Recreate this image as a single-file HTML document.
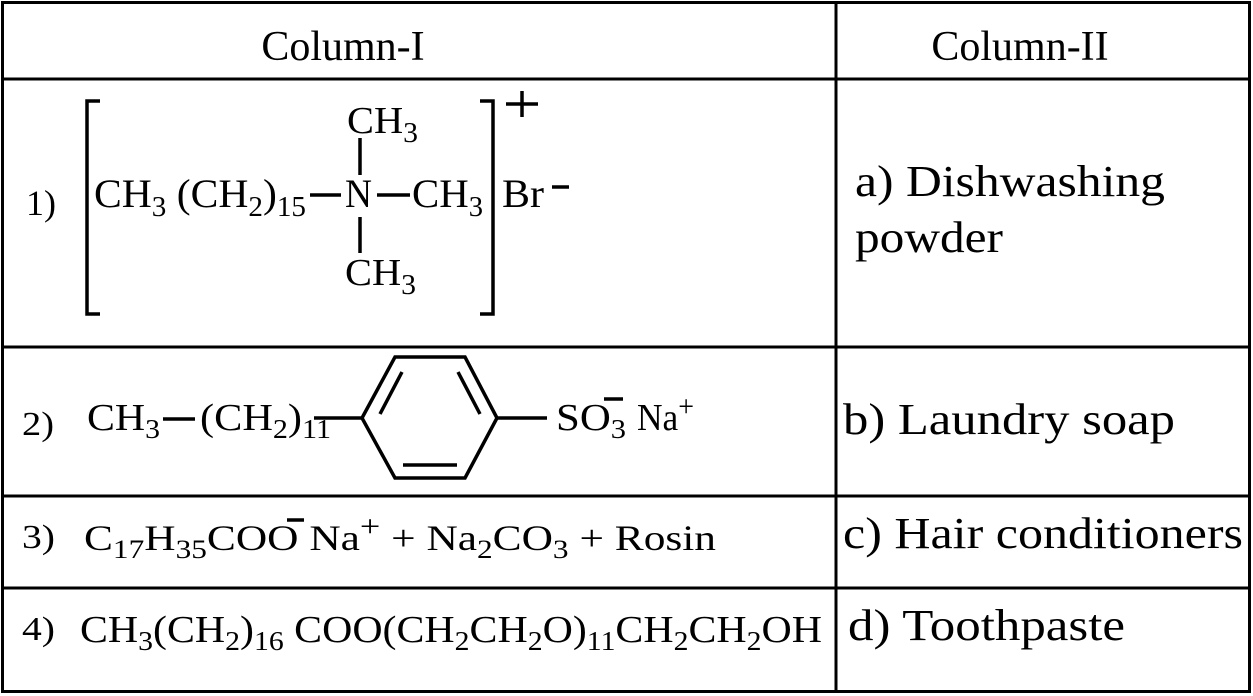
<!DOCTYPE html>
<html><head><meta charset="utf-8"><style>
html,body{margin:0;padding:0;background:#fff}
svg{display:block}
text{font-family:"Liberation Serif",serif;fill:#000}
</style></head><body>
<svg width="1253" height="696" viewBox="0 0 1253 696" xmlns="http://www.w3.org/2000/svg">
<g stroke="#000" stroke-width="3" fill="none">
<rect x="2.5" y="2.5" width="1247" height="689"/>
<line x1="836" y1="2" x2="836" y2="692"/>
<line x1="2" y1="79" x2="1250" y2="79"/>
<line x1="2" y1="347" x2="1250" y2="347"/>
<line x1="2" y1="496" x2="1250" y2="496"/>
<line x1="2" y1="588" x2="1250" y2="588"/>
</g>
<text x="343" y="60" font-size="42" text-anchor="middle">Column-I</text>
<text x="1020" y="60" font-size="42" text-anchor="middle">Column-II</text>

<text x="855" y="196" font-size="44" textLength="310" lengthAdjust="spacingAndGlyphs">a) Dishwashing</text>
<text x="855" y="252" font-size="44" textLength="148" lengthAdjust="spacingAndGlyphs">powder</text>
<text x="843" y="434" font-size="44" textLength="332" lengthAdjust="spacingAndGlyphs">b) Laundry soap</text>
<text x="843" y="548" font-size="44" textLength="400" lengthAdjust="spacingAndGlyphs">c) Hair conditioners</text>
<text x="848" y="640" font-size="44" textLength="277" lengthAdjust="spacingAndGlyphs">d) Toothpaste</text>

<!-- Row 1 -->
<text x="26" y="215" font-size="36" textLength="30" lengthAdjust="spacingAndGlyphs">1)</text>
<g stroke="#000" stroke-width="3.5" fill="none">
<polyline points="100,101 87,101 87,314 100,314"/>
<polyline points="480,101 493,101 493,314 480,314"/>
<line x1="310" y1="195" x2="341" y2="195"/>
<line x1="377" y1="195" x2="410" y2="195"/>
<line x1="360" y1="138" x2="360" y2="175"/>
<line x1="360" y1="217" x2="360" y2="253"/>
<line x1="506" y1="104" x2="538" y2="104"/>
<line x1="522" y1="91" x2="522" y2="117"/>
<line x1="552" y1="187" x2="569" y2="187"/>
</g>
<text x="94" y="207" font-size="40" textLength="212" lengthAdjust="spacingAndGlyphs">CH<tspan font-size="28" dy="9">3</tspan><tspan dy="-9"> (CH</tspan><tspan font-size="28" dy="9">2</tspan><tspan dy="-9">)</tspan><tspan font-size="28" dy="9">15</tspan></text>
<text x="345" y="207" font-size="40" textLength="27" lengthAdjust="spacingAndGlyphs">N</text>
<text x="412" y="207" font-size="40" textLength="71" lengthAdjust="spacingAndGlyphs">CH<tspan font-size="28" dy="9">3</tspan></text>
<text x="502" y="207" font-size="40" textLength="42" lengthAdjust="spacingAndGlyphs">Br</text>
<text x="347" y="133" font-size="38" textLength="71" lengthAdjust="spacingAndGlyphs">CH<tspan font-size="28" dy="9">3</tspan></text>
<text x="345" y="285" font-size="38" textLength="71" lengthAdjust="spacingAndGlyphs">CH<tspan font-size="28" dy="9">3</tspan></text>

<!-- Row 2 -->
<text x="22" y="435" font-size="34" textLength="32" lengthAdjust="spacingAndGlyphs">2)</text>
<text x="87" y="430" font-size="38" textLength="73" lengthAdjust="spacingAndGlyphs">CH<tspan font-size="27" dy="8">3</tspan></text>
<text x="200" y="430" font-size="38" textLength="131" lengthAdjust="spacingAndGlyphs">(CH<tspan font-size="27" dy="8">2</tspan><tspan dy="-8">)</tspan><tspan font-size="27" dy="8">11</tspan></text>
<g stroke="#000" stroke-width="3.5" fill="none">
<line x1="163" y1="419" x2="195" y2="419"/>
<line x1="314" y1="418" x2="362" y2="418"/>
<polygon points="362,418 395,357 465,357 497,418 465,478 395,478"/>
<line x1="402" y1="372" x2="380" y2="414"/>
<line x1="458" y1="372" x2="480" y2="414"/>
<line x1="403" y1="465" x2="457" y2="465"/>
<line x1="497" y1="418" x2="547" y2="418"/>
<line x1="604" y1="399" x2="623" y2="399"/>
</g>
<text x="556" y="430" font-size="38" textLength="70" lengthAdjust="spacingAndGlyphs">SO<tspan font-size="27" dy="8">3</tspan></text>
<text x="637" y="430" font-size="38" textLength="57" lengthAdjust="spacingAndGlyphs">Na<tspan font-size="30" dy="-14">+</tspan></text>

<!-- Row 3 -->
<text x="22" y="548" font-size="34" textLength="33" lengthAdjust="spacingAndGlyphs">3)</text>
<text x="84" y="550" font-size="36" textLength="632" lengthAdjust="spacingAndGlyphs">C<tspan font-size="26" dy="8">17</tspan><tspan dy="-8">H</tspan><tspan font-size="26" dy="8">35</tspan><tspan dy="-8">COO  Na</tspan><tspan font-size="30" dy="-14">+</tspan><tspan dy="14"> + Na</tspan><tspan font-size="26" dy="8">2</tspan><tspan dy="-8">CO</tspan><tspan font-size="26" dy="8">3</tspan><tspan dy="-8"> + Rosin</tspan></text>
<line x1="287" y1="520" x2="304" y2="520" stroke="#000" stroke-width="3.5"/>

<!-- Row 4 -->
<text x="22" y="640" font-size="34" textLength="33" lengthAdjust="spacingAndGlyphs">4)</text>
<text x="80" y="642" font-size="38" textLength="742" lengthAdjust="spacingAndGlyphs">CH<tspan font-size="27" dy="8">3</tspan><tspan dy="-8">(CH</tspan><tspan font-size="27" dy="8">2</tspan><tspan dy="-8">)</tspan><tspan font-size="27" dy="8">16</tspan><tspan dy="-8"> COO(CH</tspan><tspan font-size="27" dy="8">2</tspan><tspan dy="-8">CH</tspan><tspan font-size="27" dy="8">2</tspan><tspan dy="-8">O)</tspan><tspan font-size="27" dy="8">11</tspan><tspan dy="-8">CH</tspan><tspan font-size="27" dy="8">2</tspan><tspan dy="-8">CH</tspan><tspan font-size="27" dy="8">2</tspan><tspan dy="-8">OH</tspan></text>
</svg>
</body></html>
